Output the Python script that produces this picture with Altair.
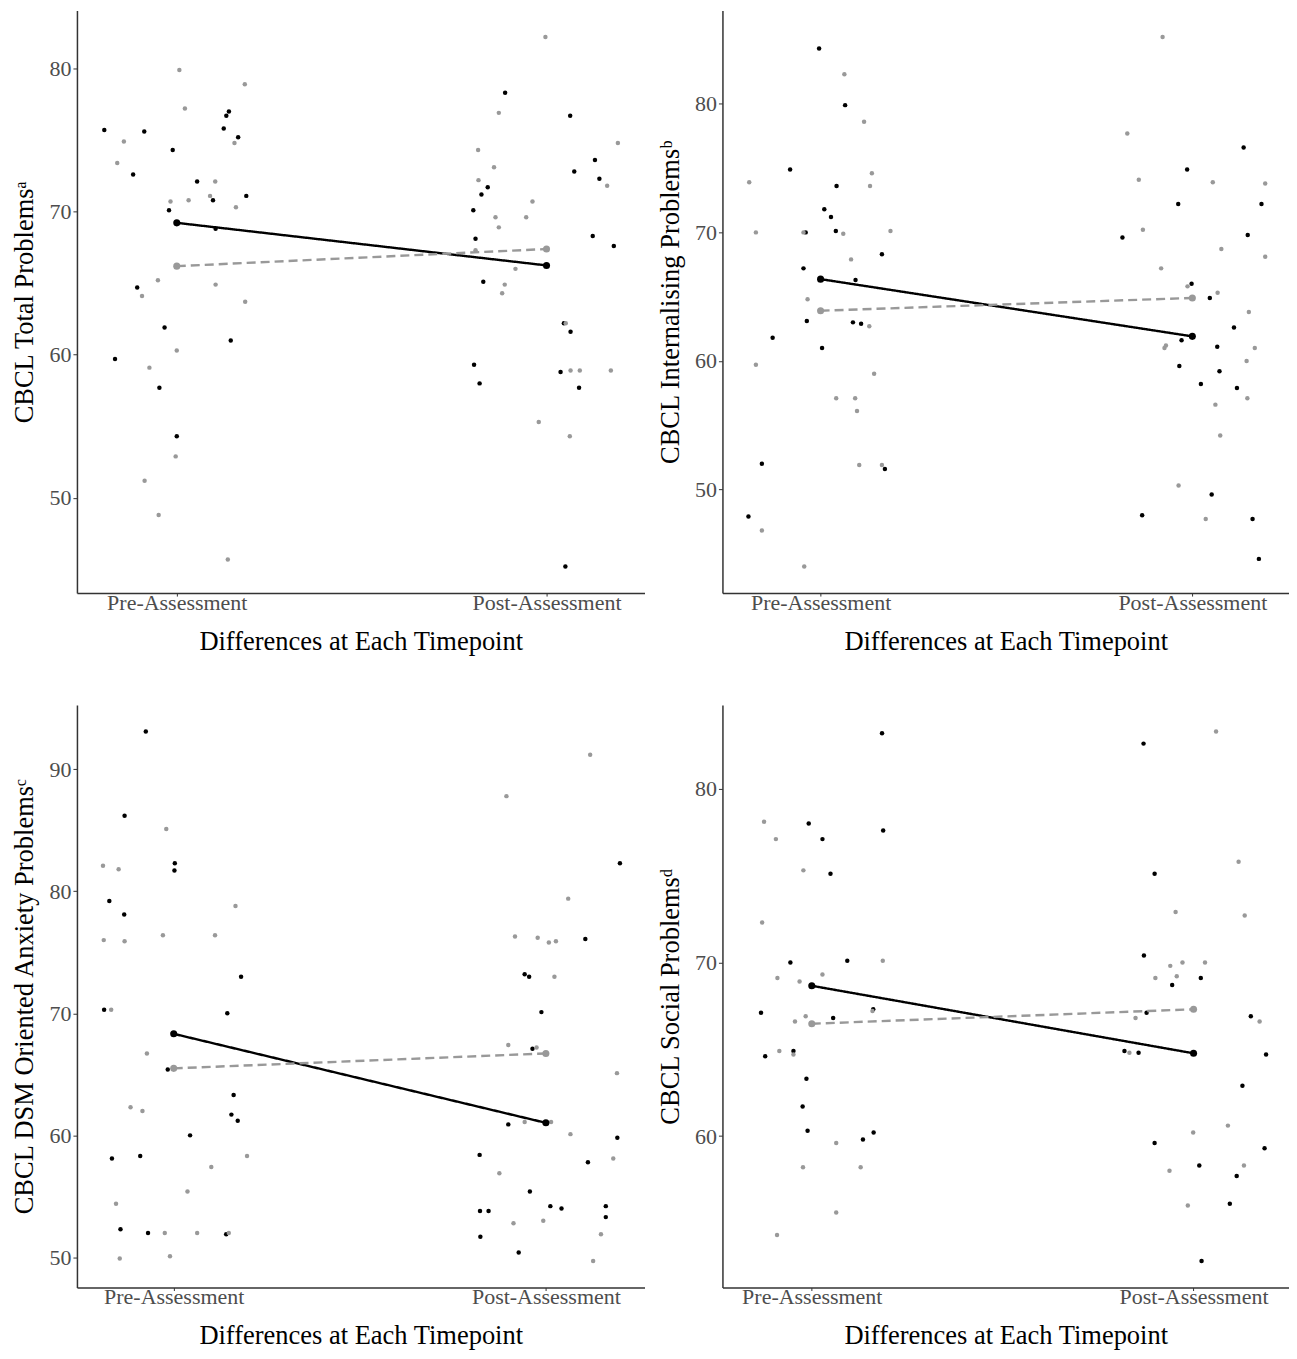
import altair as alt
import pandas as pd

# ---------------- text ----------------
TIME_LABELS = ["Pre-Assessment", "Post-Assessment"]
X_TITLE = "Differences at Each Timepoint"
Y_TITLES = [
    "CBCL Total Problems\u1d43",
    "CBCL Internalising Problems\u1d47",
    "CBCL DSM Oriented Anxiety Problems\u1d9c",
    "CBCL Social Problems\u1d48",
]
Y_TICKS = [[50, 60, 70, 80], [50, 60, 70, 80], [50, 60, 70, 80, 90], [60, 70, 80]]
X_DOMAINS = [[0.73, 2.265], [0.736, 2.26], [0.74, 2.265], [0.766, 2.25]]
GROUPS = ["black", "gray"]

# ---------------- panel 1 : Total Problems ----------------
p1_pre_black_val = [75.7, 72.6, 75.6, 59.7, 64.7, 61.9, 57.7, 54.3, 74.3, 70.1, 72.1, 70.8, 68.8, 75.8, 76.7, 77.0, 75.2, 71.1, 61.0]
p1_pre_black_jit = [-0.196, -0.118, -0.088, -0.167, -0.107, -0.033, -0.047, 0.0, -0.011, -0.021, 0.055, 0.098, 0.105, 0.127, 0.134, 0.141, 0.166, 0.188, 0.146]
p1_pre_gray_val = [79.9, 77.2, 78.9, 74.9, 73.4, 70.7, 70.8, 71.1, 72.1, 74.8, 70.3, 65.2, 64.1, 64.9, 63.7, 60.3, 59.1, 52.9, 51.2, 48.8, 45.7]
p1_pre_gray_jit = [0.007, 0.022, 0.184, -0.143, -0.161, -0.017, 0.032, 0.090, 0.104, 0.156, 0.160, -0.051, -0.094, 0.105, 0.185, 0.0, -0.074, -0.003, -0.087, -0.049, 0.138]
p1_post_black_val = [78.3, 76.7, 71.7, 71.2, 70.1, 68.1, 65.1, 72.8, 73.6, 72.3, 68.3, 67.6, 59.3, 58.0, 62.2, 61.6, 58.8, 57.7, 45.2]
p1_post_black_jit = [-0.112, 0.064, -0.159, -0.176, -0.198, -0.192, -0.171, 0.075, 0.131, 0.143, 0.125, 0.182, -0.196, -0.181, 0.047, 0.065, 0.038, 0.088, 0.051]
p1_post_gray_val = [82.2, 76.9, 74.3, 73.1, 72.2, 70.7, 74.8, 71.8, 69.6, 68.9, 69.6, 67.3, 66.0, 64.9, 64.3, 62.2, 58.9, 58.9, 58.9, 55.3, 54.3]
p1_post_gray_jit = [-0.003, -0.129, -0.185, -0.142, -0.184, -0.038, 0.193, 0.164, -0.138, -0.129, -0.055, -0.192, -0.084, -0.113, -0.120, 0.052, 0.065, 0.090, 0.174, -0.021, 0.063]

# ---------------- panel 2 : Internalising ----------------
p2_pre_black_val = [84.3, 79.9, 74.9, 73.6, 71.8, 71.2, 70.1, 68.3, 67.2, 66.3, 63.1, 63.0, 62.9, 61.8, 61.0, 52.0, 51.6, 47.9, 70.0]
p2_pre_black_jit = [-0.004, 0.066, -0.082, 0.043, 0.010, 0.028, 0.041, 0.165, -0.046, 0.094, -0.037, 0.087, 0.109, -0.129, 0.004, -0.158, 0.173, -0.194, -0.040]
p2_pre_gray_val = [82.3, 78.6, 74.6, 73.6, 73.9, 70.0, 70.0, 69.9, 70.1, 67.9, 64.8, 62.7, 59.7, 59.0, 57.1, 57.1, 56.1, 51.9, 51.9, 46.8, 44.0]
p2_pre_gray_jit = [0.064, 0.117, 0.138, 0.133, -0.192, -0.174, -0.046, 0.061, 0.188, 0.082, -0.035, 0.131, -0.174, 0.144, 0.042, 0.093, 0.098, 0.104, 0.165, -0.158, -0.044]
p2_post_black_val = [76.6, 74.9, 72.2, 72.2, 69.6, 69.8, 66.0, 64.9, 62.6, 61.6, 61.1, 59.6, 59.2, 58.2, 57.9, 49.6, 48.0, 47.7, 44.6]
p2_post_black_jit = [0.138, -0.014, -0.038, 0.186, -0.188, 0.149, -0.002, 0.047, 0.112, -0.029, 0.067, -0.035, 0.073, 0.023, 0.120, 0.052, -0.135, 0.162, 0.179]
p2_post_gray_val = [85.2, 77.7, 74.1, 73.9, 73.8, 70.2, 68.7, 68.1, 67.2, 65.8, 65.3, 63.8, 61.0, 61.2, 61.0, 60.0, 56.6, 57.1, 54.2, 50.3, 47.7]
p2_post_gray_jit = [-0.080, -0.175, -0.144, 0.055, 0.196, -0.133, 0.078, 0.196, -0.084, -0.013, 0.068, 0.152, -0.075, -0.071, 0.168, 0.146, 0.062, 0.148, 0.075, -0.037, 0.036]

# ---------------- panel 3 : DSM Anxiety ----------------
p3_pre_black_val = [93.1, 86.2, 82.3, 81.7, 79.2, 78.1, 73.0, 70.3, 70.0, 65.4, 63.3, 61.7, 61.2, 60.0, 58.1, 58.3, 52.3, 52.0, 51.9]
p3_pre_black_jit = [-0.075, -0.132, 0.003, 0.002, -0.173, -0.133, 0.181, -0.187, 0.144, -0.016, 0.161, 0.155, 0.172, 0.044, -0.166, -0.090, -0.143, -0.069, 0.141]
p3_pre_gray_val = [85.1, 82.1, 81.8, 78.8, 76.0, 75.9, 76.4, 76.4, 70.3, 66.7, 62.3, 62.0, 58.3, 57.4, 55.4, 54.4, 52.0, 52.0, 52.0, 49.9, 50.1]
p3_pre_gray_jit = [-0.020, -0.190, -0.148, 0.166, -0.188, -0.132, -0.029, 0.111, -0.168, -0.072, -0.116, -0.084, 0.197, 0.101, 0.037, -0.155, -0.024, 0.063, 0.148, -0.145, -0.010]
p3_post_black_val = [82.3, 76.1, 73.2, 73.0, 70.1, 67.1, 60.9, 59.8, 58.4, 57.8, 55.4, 53.8, 53.8, 54.2, 54.0, 54.2, 53.3, 51.7, 50.4]
p3_post_black_jit = [0.199, 0.106, -0.057, -0.045, -0.012, -0.036, -0.101, 0.192, -0.178, 0.113, -0.043, -0.177, -0.154, 0.012, 0.042, 0.161, 0.161, -0.176, -0.073]
p3_post_gray_val = [91.2, 87.8, 79.4, 76.3, 76.2, 75.8, 75.9, 73.0, 67.4, 67.2, 65.1, 61.1, 61.1, 60.1, 58.1, 56.9, 52.8, 53.0, 51.9, 49.7, 61.0]
p3_post_gray_jit = [0.119, -0.106, 0.060, -0.083, -0.022, 0.008, 0.027, 0.023, -0.101, -0.025, 0.191, -0.057, 0.014, 0.066, 0.181, -0.125, -0.087, -0.007, 0.148, 0.127, 0.002]

# ---------------- panel 4 : Social ----------------
p4_pre_black_val = [83.2, 78.0, 77.6, 77.1, 75.1, 70.0, 70.1, 67.1, 66.8, 67.3, 64.6, 64.9, 63.3, 61.7, 60.3, 59.8, 60.2]
p4_pre_black_jit = [0.184, -0.008, 0.187, 0.028, 0.049, -0.056, 0.093, -0.133, 0.056, 0.161, -0.122, -0.048, -0.014, -0.024, -0.011, 0.134, 0.162]
p4_pre_gray_val = [78.1, 77.1, 75.3, 72.3, 69.1, 68.9, 69.3, 70.1, 66.9, 66.6, 67.2, 64.9, 64.7, 59.6, 58.2, 58.2, 55.6, 54.3]
p4_pre_gray_jit = [-0.125, -0.094, -0.022, -0.130, -0.090, -0.032, 0.028, 0.186, -0.016, -0.044, 0.159, -0.085, -0.048, 0.064, -0.023, 0.128, 0.064, -0.091]
p4_post_black_val = [82.6, 75.1, 70.4, 69.1, 68.7, 67.1, 66.9, 64.9, 64.8, 64.7, 62.9, 59.6, 59.3, 58.3, 57.7, 56.1, 52.8]
p4_post_black_jit = [-0.131, -0.102, -0.130, 0.019, -0.056, -0.123, 0.150, -0.181, -0.144, 0.190, 0.128, -0.102, 0.186, 0.015, 0.113, 0.095, 0.021]
p4_post_gray_val = [83.3, 75.8, 72.9, 72.7, 69.8, 70.0, 70.0, 69.1, 69.2, 66.8, 66.6, 64.8, 60.2, 60.6, 58.0, 58.3, 56.0]
p4_post_gray_jit = [0.059, 0.118, -0.047, 0.134, -0.061, -0.029, 0.030, -0.100, -0.044, -0.152, 0.173, -0.168, -0.001, 0.090, -0.063, 0.132, -0.015]

PANELS = [
    (p1_pre_black_val, p1_pre_black_jit, p1_pre_gray_val, p1_pre_gray_jit,
     p1_post_black_val, p1_post_black_jit, p1_post_gray_val, p1_post_gray_jit),
    (p2_pre_black_val, p2_pre_black_jit, p2_pre_gray_val, p2_pre_gray_jit,
     p2_post_black_val, p2_post_black_jit, p2_post_gray_val, p2_post_gray_jit),
    (p3_pre_black_val, p3_pre_black_jit, p3_pre_gray_val, p3_pre_gray_jit,
     p3_post_black_val, p3_post_black_jit, p3_post_gray_val, p3_post_gray_jit),
    (p4_pre_black_val, p4_pre_black_jit, p4_pre_gray_val, p4_pre_gray_jit,
     p4_post_black_val, p4_post_black_jit, p4_post_gray_val, p4_post_gray_jit),
]

FONT = "Liberation Serif"
COLORS = ["#000000", "#999999"]


def panel_df(arrs):
    prb_v, prb_j, prg_v, prg_j, pob_v, pob_j, pog_v, pog_j = arrs
    rows = []
    for t, grp, vals, jits in [
        (1, "black", prb_v, prb_j), (1, "gray", prg_v, prg_j),
        (2, "black", pob_v, pob_j), (2, "gray", pog_v, pog_j),
    ]:
        for v, j in zip(vals, jits):
            rows.append({"time": t, "group": grp, "value": v, "xj": t + j})
    return pd.DataFrame(rows)


def make_panel(df, ytitle, yticks, xdom, w, h):
    lo, hi = df["value"].min(), df["value"].max()
    pad = 0.05 * (hi - lo)
    ysc = alt.Scale(domain=[lo - pad, hi + pad], nice=False, zero=False)
    xsc = alt.Scale(domain=xdom, nice=False, zero=False)
    label_expr = f"datum.value == 1 ? '{TIME_LABELS[0]}' : '{TIME_LABELS[1]}'"
    xaxis = alt.Axis(values=[1, 2], labelExpr=label_expr, title=X_TITLE,
                     labelPadding=-4, titlePadding=15, tickSize=3)
    yaxis = alt.Axis(values=yticks, title=ytitle, labelPadding=2, titlePadding=10)
    color = alt.Color("group:N", scale=alt.Scale(domain=GROUPS, range=COLORS), legend=None)
    base = alt.Chart(df)
    pts = base.mark_circle(size=20, opacity=1).encode(
        x=alt.X("xj:Q", scale=xsc, axis=xaxis),
        y=alt.Y("value:Q", scale=ysc, axis=yaxis),
        color=color,
    )
    means = base.transform_aggregate(m="mean(value)", groupby=["time", "group"])
    line = means.mark_line(strokeWidth=2.4).encode(
        x=alt.X("time:Q", scale=xsc, axis=xaxis),
        y=alt.Y("m:Q", scale=ysc, axis=yaxis),
        color=color,
        strokeDash=alt.StrokeDash("group:N", scale=alt.Scale(domain=GROUPS, range=[[1, 0], [9, 5]]), legend=None),
    )
    mp = means.mark_circle(size=50, opacity=1).encode(
        x=alt.X("time:Q", scale=xsc, axis=xaxis),
        y=alt.Y("m:Q", scale=ysc, axis=yaxis),
        color=color,
    )
    return alt.layer(pts, line, mp).properties(width=w, height=h)


charts = []
sizes = [(568, 583), (567, 583), (568, 583), (567, 583)]
for i, arrs in enumerate(PANELS):
    df = panel_df(arrs)
    w, h = sizes[i]
    charts.append(make_panel(df, Y_TITLES[i], Y_TICKS[i], X_DOMAINS[i], w, h))

chart = alt.vconcat(
    alt.hconcat(charts[0], charts[1], spacing=13),
    alt.hconcat(charts[2], charts[3], spacing=13),
    spacing=50,
).properties(
    padding={"left": 4, "top": 2, "right": 0, "bottom": 0},
    background="white",
).configure_view(stroke=None).configure_axis(
    grid=False,
    labelFont=FONT, labelFontSize=22, labelColor="#4d4d4d",
    titleFont=FONT, titleFontSize=26.5, titleFontWeight="normal", titleColor="#000000",
    domainColor="#333333", domainWidth=1.5,
    tickColor="#333333", tickWidth=1, tickSize=4,
)

chart.save("out.html", embed_options={"renderer": "svg", "actions": False})
